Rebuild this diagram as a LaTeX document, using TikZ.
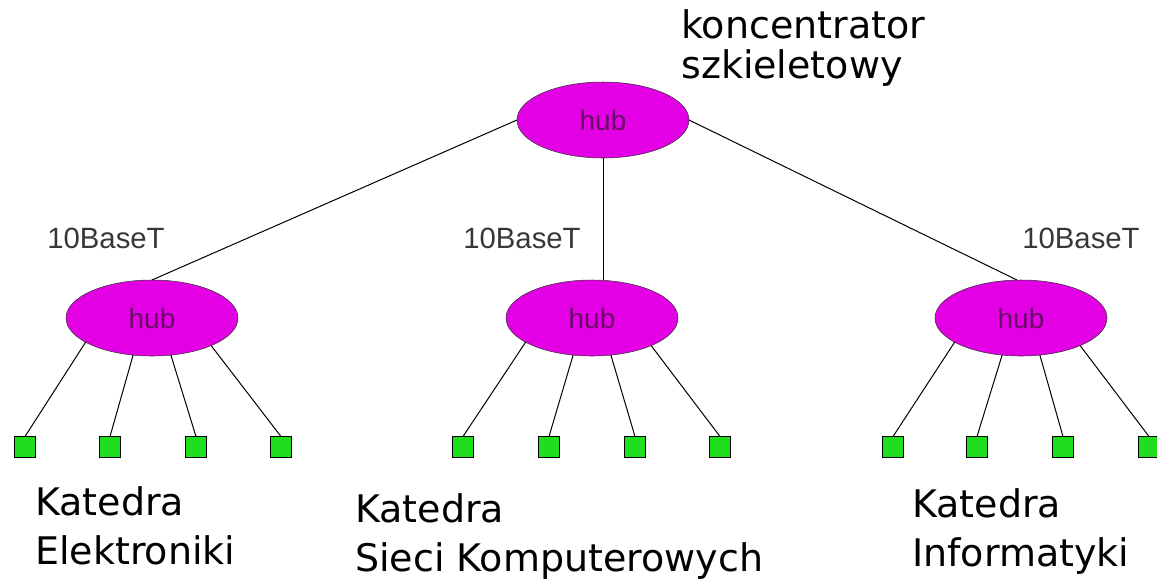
\documentclass[tikz,border=0pt]{standalone}
\usepackage{fontspec}
\setmainfont{Liberation Sans}
\newfontfamily\comicfont{DejaVu Sans}
\usetikzlibrary{shapes.geometric}
\definecolor{hubfill}{RGB}{228,0,228}
\definecolor{hubtext}{RGB}{105,10,105}
\definecolor{pcgreen}{RGB}{30,222,30}
\definecolor{lblgray}{RGB}{55,55,55}
\tikzset{
  hubnode/.style={ellipse, draw=black!80, fill=hubfill, minimum width=172*0.75pt, minimum height=76*0.75pt, inner sep=0pt, outer sep=0pt, text=hubtext, font=\fontsize{21}{24}\selectfont},
  pcnode/.style={rectangle, draw=black, fill=pcgreen, minimum size=21*0.75pt, inner sep=0pt, outer sep=0pt, line width=0.8pt},
  wire/.style={draw=black, line width=0.75pt},
  baselbl/.style={anchor=base west, inner sep=0pt, text=lblgray, font=\fontsize{22}{24}\selectfont},
  deptlbl/.style={anchor=base west, inner sep=0pt, font=\comicfont\fontsize{28.5}{37}\selectfont},
}
\begin{document}
\begin{tikzpicture}[x=0.75pt, y=-0.75pt]
\useasboundingbox (0,0) rectangle (1157,583);
% hubs
\node[hubnode] (top) at (603,120) {hub};
\node[hubnode] (left) at (152,318) {hub};
\node[hubnode] (mid) at (592,318) {hub};
\node[hubnode] (right) at (1021,318) {hub};
% backbone links
\draw[wire] (top.west) -- (left.north);
\draw[wire] (top.south) -- (top.south |- mid.north);
\draw[wire] (top.east) -- (right.96);
% PCs
\foreach \n/\x in {l1/25, l2/110, l3/196, l4/281, m1/463, m2/549, m3/635, m4/720, r1/893, r2/977, r3/1063, r4/1149}{
  \node[pcnode] (\n) at (\x,447) {};
}
\foreach \h/\a/\b/\c/\d in {left/l1/l2/l3/l4, mid/m1/m2/m3/m4, right/r1/r2/r3/r4}{
  \draw[wire] (\h.200) -- (\a.north);
  \draw[wire] (\h.243) -- (\b.north);
  \draw[wire] (\h.297) -- (\c.north);
  \draw[wire] (\h.335) -- (\d.north);
}
% labels
\node[baselbl] (bl) at (47,248) {10BaseT};
\node[baselbl] (bm) at (463,248) {10BaseT};
\node[baselbl] (br) at (1022,248) {10BaseT};
\node[anchor=base west, inner sep=0pt, font=\comicfont\fontsize{28.5}{29.25}\selectfont] (kon) at (681,38) {\begin{tabular}[t]{@{}l@{}}koncentrator\\szkieletowy\end{tabular}};
\node[deptlbl] (d1) at (35,515) {\begin{tabular}[t]{@{}l@{}}Katedra\\Elektroniki\end{tabular}};
\node[deptlbl] (d2) at (355,522) {\begin{tabular}[t]{@{}l@{}}Katedra\\Sieci Komputerowych\end{tabular}};
\node[deptlbl] (d3) at (912,517) {\begin{tabular}[t]{@{}l@{}}Katedra\\Informatyki\end{tabular}};
\end{tikzpicture}
\end{document}
